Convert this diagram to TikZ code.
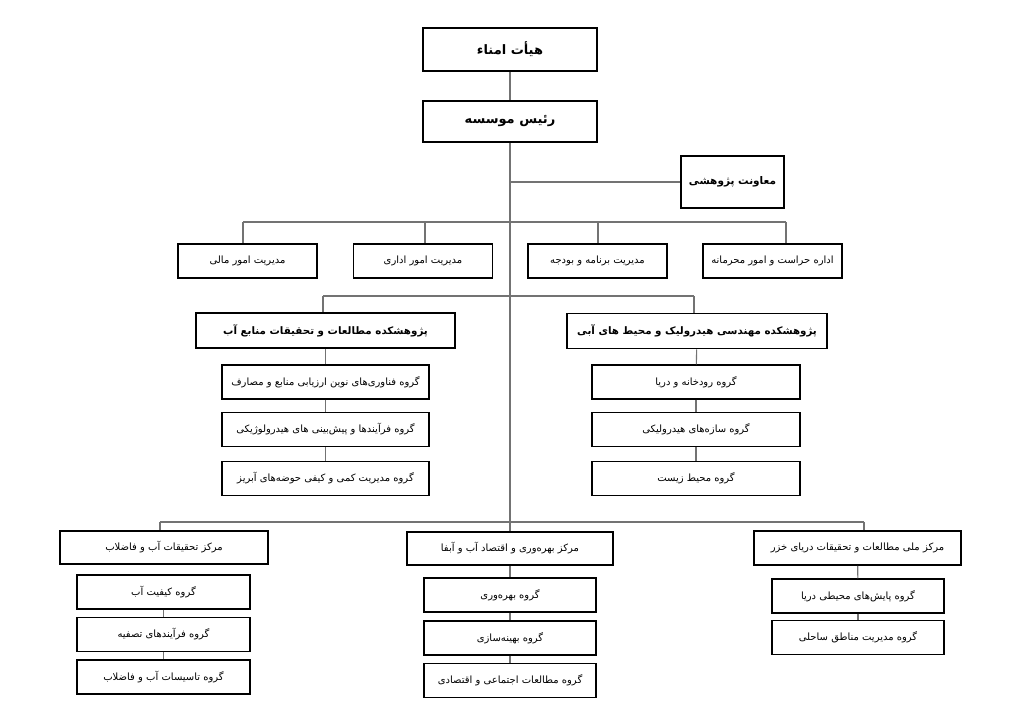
\documentclass[tikz,border=0pt]{standalone}
\usepackage{fontspec}
\newfontfamily\fa[Script=Arabic]{DejaVu Sans}
\TeXXeTstate=1
\newcommand{\rtl}[1]{\fa\beginR #1\endR}
\tikzset{
  conn/.style={draw=black!55, line width=1.1pt},
  mainbox/.style={draw=black, line width=1.8pt, rectangle, inner sep=0pt, font=\fa\bfseries\fontsize{13}{15}\selectfont},
  instbox/.style={mainbox, minimum height=35, font=\fa\bfseries\fontsize{10.3}{12}\selectfont},
  midbox/.style={draw=black, line width=1.6pt, rectangle, inner sep=0pt, minimum height=34, font=\fa\fontsize{10}{12}\selectfont},
  subbox/.style={draw=black, line width=1.3pt, rectangle, inner sep=0pt, minimum height=34, font=\fa\fontsize{10}{12}\selectfont},
}
\begin{document}
\begin{tikzpicture}[x=1pt,y=-1pt]
\useasboundingbox (0,0) rectangle (1024,724);
% top
\node[mainbox, minimum width=174, minimum height=43] (board) at (510,49.5) {\rtl{هیأت امناء}};
\node[mainbox, minimum width=174, minimum height=41] (pres) at (510,121.5) {\rtl{رئیس موسسه}};
\node[mainbox, minimum width=103, minimum height=52, font=\fa\bfseries\fontsize{10.5}{12}\selectfont] (dep) at (732.5,182) {\rtl{معاونت پژوهشی}};
% management row
\node[midbox, minimum width=139] (m1) at (247.5,261) {\rtl{مدیریت امور مالی}};
\node[midbox, minimum width=139] (m2) at (423,261) {\rtl{مدیریت امور اداری}};
\node[midbox, minimum width=139] (m3) at (597.5,261) {\rtl{مدیریت برنامه و بودجه}};
\node[midbox, minimum width=139] (m4) at (772.5,261) {\rtl{اداره حراست و امور محرمانه}};
% institutes
\node[instbox, minimum width=259] (insL) at (325.5,330.5) {\rtl{پژوهشکده مطالعات و تحقیقات منابع آب}};
\node[instbox, minimum width=260] (insR) at (697,331) {\rtl{پژوهشکده مهندسی هیدرولیک و محیط های آبی}};
\node[subbox, minimum width=207] (gL1) at (325.5,382) {\rtl{گروه فناوری‌های نوین ارزیابی منابع و مصارف}};
\node[subbox, minimum width=207] (gL2) at (325.5,429.5) {\rtl{گروه فرآیندها و پیش‌بینی های هیدرولوژیکی}};
\node[subbox, minimum width=207] (gL3) at (325.5,478.5) {\rtl{گروه مدیریت کمی و کیفی حوضه‌های آبریز}};
\node[subbox, minimum width=208] (gR1) at (696,382) {\rtl{گروه رودخانه و دریا}};
\node[subbox, minimum width=208] (gR2) at (696,429.5) {\rtl{گروه سازه‌های هیدرولیکی}};
\node[subbox, minimum width=208] (gR3) at (696,478.5) {\rtl{گروه محیط زیست}};
% centers
\node[midbox, minimum width=208, minimum height=33] (cL) at (164,547.5) {\rtl{مرکز تحقیقات آب و فاضلاب}};
\node[midbox, minimum width=206, minimum height=33] (cM) at (510,548.5) {\rtl{مرکز بهره‌وری و اقتصاد آب و آبفا}};
\node[midbox, minimum width=207, minimum height=34] (cR) at (857.5,548) {\rtl{مرکز ملی مطالعات و تحقیقات دریای خزر}};
\node[subbox, minimum width=173] (hL1) at (163.5,592) {\rtl{گروه کیفیت آب}};
\node[subbox, minimum width=173] (hL2) at (163.5,634.5) {\rtl{گروه فرآیندهای تصفیه}};
\node[subbox, minimum width=173] (hL3) at (163.5,677) {\rtl{گروه تاسیسات آب و فاضلاب}};
\node[subbox, minimum width=172] (hM1) at (510,595) {\rtl{گروه بهره‌وری}};
\node[subbox, minimum width=172] (hM2) at (510,638) {\rtl{گروه بهینه‌سازی}};
\node[subbox, minimum width=172] (hM3) at (510,680.5) {\rtl{گروه مطالعات اجتماعی و اقتصادی}};
\node[subbox, minimum width=172] (hR1) at (858,596) {\rtl{گروه پایش‌های محیطی دریا}};
\node[subbox, minimum width=172] (hR2) at (858,637.5) {\rtl{گروه مدیریت مناطق ساحلی}};
% junction coordinates
\coordinate (jd) at (510,182);
\coordinate (b1) at (243,222);
\coordinate (b2) at (425,222);
\coordinate (b3) at (598,222);
\coordinate (b4) at (786,222);
\coordinate (i1) at (323,296);
\coordinate (i2) at (694,296);
\coordinate (c1) at (160,522);
\coordinate (c3) at (864,522);
% connectors
\draw[conn] (board) -- (pres);
\draw[conn] (pres.south) -- (cM.north);
\draw[conn] (jd) -- (dep.west);
\draw[conn] (b1) -- (b4);
\draw[conn] (b1) -- (b1 |- m1.north);
\draw[conn] (b2) -- (b2 |- m2.north);
\draw[conn] (b3) -- (b3 |- m3.north);
\draw[conn] (b4) -- (b4 |- m4.north);
\draw[conn] (i1) -- (i2);
\draw[conn] (i1) -- (i1 |- insL.north);
\draw[conn] (i2) -- (i2 |- insR.north);
\draw[conn] (insL) -- (gL1);
\draw[conn] (gL1) -- (gL2);
\draw[conn] (gL2) -- (gL3);
\draw[conn] (insR) -- (gR1);
\draw[conn] (gR1) -- (gR2);
\draw[conn] (gR2) -- (gR3);
\draw[conn] (c1) -- (c3);
\draw[conn] (c1) -- (c1 |- cL.north);
\draw[conn] (c3) -- (c3 |- cR.north);
\draw[conn] (hL1) -- (hL2);
\draw[conn] (hL2) -- (hL3);
\draw[conn] (cM) -- (hM1);
\draw[conn] (hM1) -- (hM2);
\draw[conn] (hM2) -- (hM3);
\draw[conn] (cR) -- (hR1);
\draw[conn] (hR1) -- (hR2);
\end{tikzpicture}
\end{document}
